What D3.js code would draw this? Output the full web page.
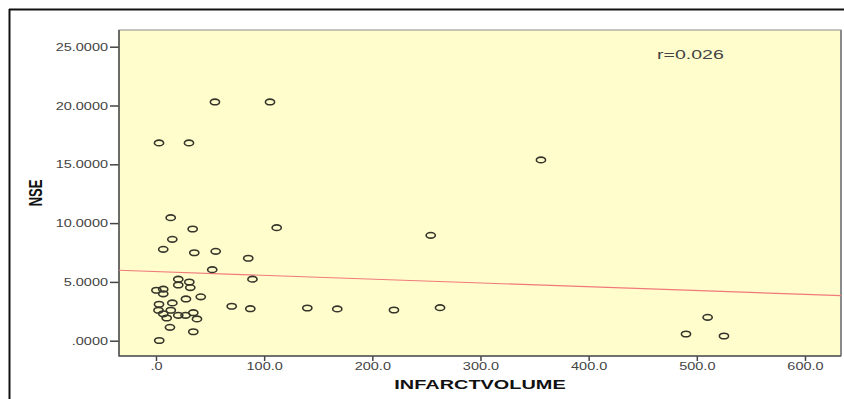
<!DOCTYPE html>
<html>
<head>
<meta charset="utf-8">
<script src="https://cdn.jsdelivr.net/npm/d3@7"></script>
<style>
  html, body { margin: 0; padding: 0; background: #ffffff; }
  svg { display: block; }
  text { font-family: "Liberation Sans", Arial, sans-serif; }
</style>
</head>
<body>
<svg id="chart" width="844" height="399"></svg>
<script>
// ---- data ----
const infarctVolume = [54.5,105.4,2.8,30.5,355.9,13.6,33.9,111.6,15.1,254.0,6.7,35.4,55.2,85.3,52.0,89.2,20.6,30.8,20.6,31.7,0.4,6.7,6.7,27.7,41.4,70.0,87.2,2.8,15.1,2.3,13.7,6.7,9.9,20.6,27.3,34.5,37.9,12.9,34.5,3.0,139.9,167.6,220.0,262.6,510.0,490.0,525.1];
const nse = [20.30,20.30,16.82,16.82,15.37,10.46,9.50,9.61,8.62,8.96,7.77,7.48,7.60,7.01,6.04,5.23,5.23,4.99,4.74,4.52,4.29,4.38,3.99,3.55,3.73,2.93,2.72,3.10,3.21,2.59,2.59,2.29,1.93,2.16,2.16,2.38,1.85,1.14,0.76,0.02,2.78,2.70,2.61,2.81,1.99,0.57,0.40];
const fitX = [-34.2, 633.3];
const fitY = [5.99, 3.83];
const xTicks = [0,100,200,300,400,500,600];
const xTickLabels = [".0","100.0","200.0","300.0","400.0","500.0","600.0"];
const yTicks = [0,5,10,15,20,25];
const yTickLabels = [".0000","5.0000","10.0000","15.0000","20.0000","25.0000"];
const xTitle = "INFARCTVOLUME";
const yTitle = "NSE";
const rLabel = "r=0.026";

// ---- layout ----
const SX = 1.45; // horizontal stretch of the original picture
const L = 119, R = 841, T = 30, B = 356;
const svg = d3.select("#chart");

const x = d3.scaleLinear().domain([-34.2, 633.3]).range([L, R]);
const y = d3.scaleLinear().domain([-1.30, 26.42]).range([B, T]);

// outer frame
svg.append("line").attr("x1", 9).attr("x2", 844).attr("y1", 9.5).attr("y2", 9.5)
  .attr("stroke", "#111").attr("stroke-width", 2);
svg.append("line").attr("x1", 9.5).attr("x2", 9.5).attr("y1", 9).attr("y2", 399)
  .attr("stroke", "#111").attr("stroke-width", 2);

// plot background
svg.append("rect").attr("x", L).attr("y", T).attr("width", R - L).attr("height", B - T)
  .attr("fill", "#fffdcc").attr("stroke", "#8c8c8c").attr("stroke-width", 1);
svg.append("line").attr("x1", R).attr("x2", R).attr("y1", T).attr("y2", B)
  .attr("stroke", "#8a8a8a").attr("stroke-width", 2);

// axes
const xAxis = svg.append("g").attr("transform", `translate(0,${B})`)
  .call(d3.axisBottom(x).tickValues(xTicks).tickSize(5).tickSizeOuter(0)
    .tickFormat((d, i) => xTickLabels[i]));
const yAxis = svg.append("g").attr("transform", `translate(${L},0)`)
  .call(d3.axisLeft(y).tickValues(yTicks).tickSize(9).tickSizeOuter(0)
    .tickFormat((d, i) => yTickLabels[i]));

[xAxis, yAxis].forEach(g => {
  g.select(".domain").remove();
  g.selectAll(".tick line").attr("stroke", "#444").attr("stroke-width", 1.5);
  g.selectAll(".tick text").attr("fill", "#444").attr("font-size", 10);
});
xAxis.selectAll(".tick text")
  .attr("y", null).attr("dy", null)
  .attr("transform", `translate(0,14) scale(${SX},1)`);
yAxis.selectAll(".tick text")
  .attr("x", null).attr("dy", null)
  .attr("transform", `translate(-11,3.5) scale(${SX},1)`);

// axis lines
svg.append("line").attr("x1", L).attr("x2", L).attr("y1", T).attr("y2", B + 0.5)
  .attr("stroke", "#555").attr("stroke-width", 1.6);
svg.append("line").attr("x1", L).attr("x2", R).attr("y1", B).attr("y2", B)
  .attr("stroke", "#555").attr("stroke-width", 1.6);

// fit line
const plot = svg.append("g");
plot.append("line")
  .attr("x1", x(fitX[0])).attr("y1", y(fitY[0]))
  .attr("x2", x(fitX[1])).attr("y2", y(fitY[1]))
  .attr("stroke", "#f07a7a").attr("stroke-width", 1.2);

// points
plot.selectAll("ellipse.pt").data(infarctVolume).join("ellipse")
  .attr("class", "pt")
  .attr("cx", (d) => x(d))
  .attr("cy", (d, i) => y(nse[i]))
  .attr("rx", 4.6).attr("ry", 2.8)
  .attr("fill", "none").attr("stroke", "#35352a").attr("stroke-width", 1.6);

// r label
svg.append("text").text(rLabel)
  .attr("transform", `translate(657,59) scale(${SX},1)`)
  .attr("font-size", 13.5).attr("fill", "#444");

// titles
svg.append("text").text(xTitle)
  .attr("transform", `translate(${(L + R) / 2},389) scale(1.66,1)`)
  .attr("text-anchor", "middle").attr("font-size", 12).attr("font-weight", "bold").attr("fill", "#111");
svg.append("text").text(yTitle)
  .attr("transform", `translate(42,${(T + B) / 2}) scale(${SX},1) rotate(-90)`)
  .attr("text-anchor", "middle").attr("font-size", 13).attr("font-weight", "bold").attr("fill", "#111");
</script>
</body>
</html>
